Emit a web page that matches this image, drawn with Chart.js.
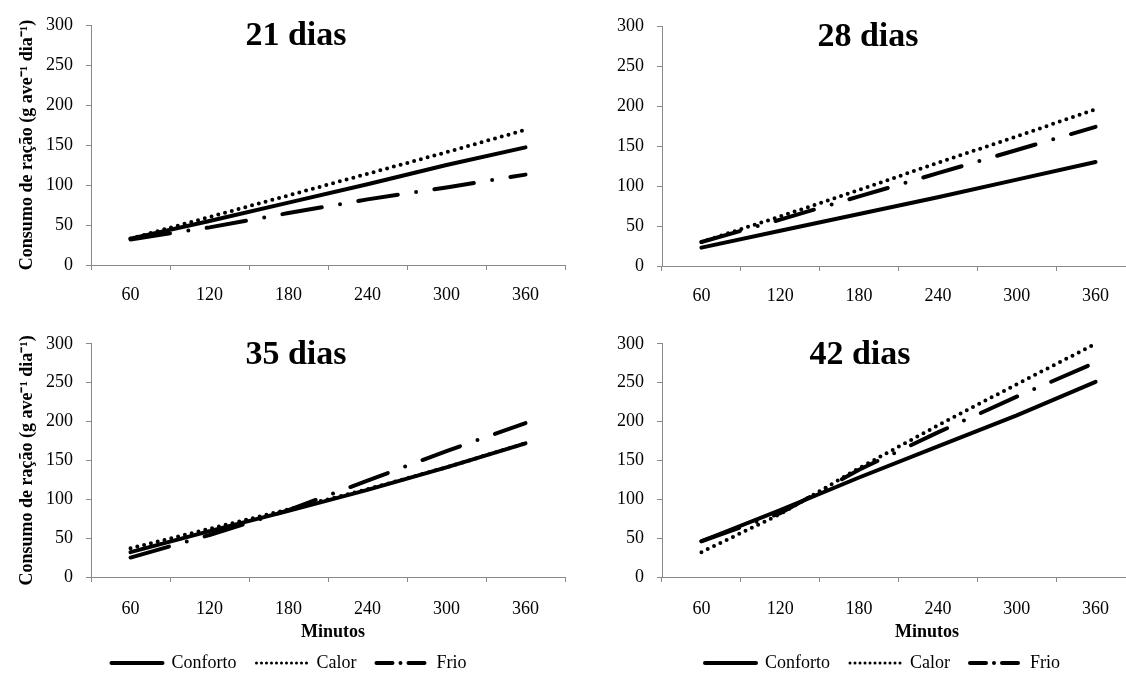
<!DOCTYPE html>
<html>
<head>
<meta charset="utf-8">
<script src="https://cdn.jsdelivr.net/npm/chart.js@4.4.1/dist/chart.umd.min.js"></script>
<style>
  html, body { margin: 0; padding: 0; background: #fff; }
  body { position: relative; width: 1126px; height: 673px; overflow: hidden; }
  canvas { position: absolute; }
</style>
</head>
<body>
<canvas id="c21" width="600" height="310" style="left:0px;top:0px"></canvas>
<canvas id="c28" width="600" height="310" style="left:563px;top:0px"></canvas>
<canvas id="c35" width="600" height="362" style="left:0px;top:320px"></canvas>
<canvas id="c42" width="600" height="362" style="left:563px;top:320px"></canvas>
<script>
// minutes after feeding (category axis)
const minutos = ['60', '120', '180', '240', '300', '360'];
const yMin = 0, yMax = 300, yStep = 50;

// feed intake, g/bird/day
const conforto21 = [33, 55, 78, 101, 125, 147];
const calor21    = [33, 60, 87, 114, 141, 169];
const frio21     = [32, 47, 65, 82, 97, 113];

const conforto28 = [23, 44, 65, 86, 108, 130];
const calor28    = [30, 62, 95, 129, 162, 196];
const frio28     = [30, 58, 87, 116, 145, 174];

const conforto35 = [32, 59, 85, 112, 141, 172];
const calor35    = [37, 62, 87, 113, 141, 172];
const frio35     = [25, 54, 86, 124, 162, 198];

const conforto42 = [46, 86, 128, 168, 208, 251];
const calor42    = [32, 81, 140, 195, 248, 300];
const frio42     = [46, 82, 138, 186, 232, 276];

const serif = '"Liberation Serif", "Times New Roman", serif';
Chart.defaults.font.family = serif;
Chart.defaults.color = '#000';

const axisGray = '#898989';
const legendDash = { 'Calor': [0, 5], 'Frio': [16, 8, 0, 8] };

// title inside the plot and the x axis title (Excel style placement)
const panelText = {
  id: 'panelText',
  afterDraw(chart, args, opts) {
    const { ctx, chartArea } = chart;
    ctx.save();
    ctx.fillStyle = '#000';
    ctx.textAlign = 'center';
    ctx.textBaseline = 'alphabetic';
    ctx.font = 'bold 34px ' + serif;
    ctx.fillText(opts.title, chartArea.left + opts.titleDx, chartArea.top + 20);
    if (opts.xTitle) {
      ctx.font = 'bold 18px ' + serif;
      ctx.fillText(opts.xTitle, chartArea.left + opts.xTitleDx, chartArea.bottom + 60);
    }
    ctx.restore();
  }
};

// nudge the legend sideways, the original one is not centred on the panel
const legendShift = {
  id: 'legendShift',
  afterLayout(chart, args, opts) {
    if (chart.legend && opts.dx) {
      chart.legend.left += opts.dx;
      chart.legend.right += opts.dx;
    }
  }
};

function series(label, data, dash) {
  return {
    label: label,
    data: data,
    borderColor: '#000',
    backgroundColor: '#000',
    borderWidth: 4,
    borderDash: dash,
    borderCapStyle: 'round',
    pointRadius: 0,
    tension: 0
  };
}

function panel(id, title, conforto, calor, frio, opt) {
  const ctx = document.getElementById(id).getContext('2d');
  return new Chart(ctx, {
    type: 'line',
    data: {
      labels: minutos,
      datasets: [
        series('Conforto', conforto, []),
        series('Calor', calor, [0, 7]),
        series('Frio', frio, [40, 18.5, 0, 18.5])
      ]
    },
    plugins: [panelText, legendShift],
    options: {
      responsive: false,
      animation: false,
      devicePixelRatio: 1,
      layout: { padding: opt.padding },
      plugins: {
        tooltip: { enabled: false },
        panelText: { title: title, titleDx: opt.titleDx, xTitle: opt.xTitle, xTitleDx: opt.xTitleDx },
        legendShift: { dx: opt.legendDx || 0 },
        legend: {
          display: opt.legend,
          position: 'bottom',
          labels: {
            usePointStyle: true,
            pointStyle: 'line',
            pointStyleWidth: 51,
            padding: 20,
            color: '#000',
            font: { size: 18 },
            generateLabels(chart) {
              const items = Chart.defaults.plugins.legend.labels.generateLabels(chart);
              items.forEach(it => {
                it.lineCap = 'round';
                it.lineDash = legendDash[it.text] || [];
                it.lineWidth = it.text === 'Calor' ? 3 : 4;
              });
              return items;
            }
          }
        }
      },
      scales: {
        x: {
          type: 'category',
          offset: true,
          afterFit: s => { s.height = opt.xh; },
          grid: { display: true, drawOnChartArea: false, drawTicks: true, tickLength: 5, color: axisGray, offset: true },
          border: { display: true, color: axisGray, width: 1 },
          ticks: { color: '#000', font: { size: 18 }, padding: opt.xPad, maxRotation: 0, autoSkip: false }
        },
        y: {
          type: 'linear',
          min: yMin,
          max: yMax,
          afterFit: s => { s.width = 78; },
          grid: { display: true, drawOnChartArea: false, drawTicks: true, tickLength: 5, color: axisGray },
          border: { display: true, color: axisGray, width: 1 },
          ticks: { stepSize: yStep, color: '#000', font: { size: 18 }, padding: 13 },
          title: {
            display: opt.yTitle,
            text: 'Consumo de ração (g ave⁻¹ dia⁻¹)',
            color: '#000',
            font: { size: 18, weight: 'bold' },
            padding: { top: 4, bottom: 0 }
          }
        }
      }
    }
  });
}

panel('c21', '21 dias', conforto21, calor21, frio21, {
  padding: { top: 25, left: 13, right: 35, bottom: 5 }, xh: 40, xPad: 14,
  titleDx: 205, legend: false, yTitle: true
});
panel('c28', '28 dias', conforto28, calor28, frio28, {
  padding: { top: 26, left: 21, right: 28, bottom: 4 }, xh: 40, xPad: 14,
  titleDx: 206, legend: false, yTitle: false
});
panel('c35', '35 dias', conforto35, calor35, frio35, {
  padding: { top: 21, left: 13, right: 35, bottom: 0 }, xh: 57, xPad: 16,
  titleDx: 205, xTitle: 'Minutos', xTitleDx: 242, legend: true, yTitle: true
});
panel('c42', '42 dias', conforto42, calor42, frio42, {
  padding: { top: 21, left: 21, right: 28, bottom: 0 }, xh: 57, xPad: 16,
  titleDx: 198, xTitle: 'Minutos', xTitleDx: 265, legend: true, legendDx: 23, yTitle: false
});
</script>
</body>
</html>
